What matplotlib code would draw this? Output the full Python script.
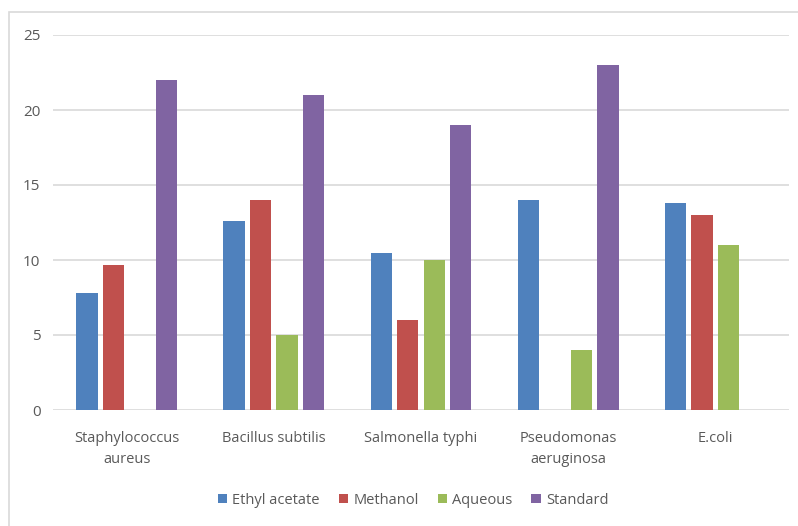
import numpy as np
import matplotlib.pyplot as plt
from matplotlib.patches import Rectangle

# Zone of inhibition per organism and extract
organisms = ["Staphylococcus\naureus", "Bacillus subtilis", "Salmonella typhi",
             "Pseudomonas\naeruginosa", "E.coli"]
series_names = ["Ethyl acetate", "Methanol", "Aqueous", "Standard"]
ethyl_acetate = [7.8, 12.6, 10.5, 14.0, 13.8]
methanol = [9.7, 14.0, 6.0, 0.0, 13.0]
aqueous = [0.0, 5.0, 10.0, 4.0, 11.0]
standard = [22.0, 21.0, 19.0, 23.0, 0.0]
y_ticks = [0, 5, 10, 15, 20, 25]

colors = ["#4F81BD", "#C0504D", "#9BBB59", "#8064A2"]
text_color = "#595959"
plt.rcParams['font.family'] = ['Open Sans', 'DejaVu Sans']

W, H = 798, 526
fig = plt.figure(figsize=(W / 100, H / 100), dpi=100)

# chart border (top and left edges visible)
fig.patches.append(Rectangle((9 / W, -0.1), 1.2, (H - 12) / H + 0.1,
                             transform=fig.transFigure, fill=False,
                             edgecolor="#D9D9D9", linewidth=1.2))

left, right, top, bottom = 53, 789, 35, 410
ax = fig.add_axes([left / W, 1 - bottom / H, (right - left) / W, (bottom - top) / H])

x = np.arange(len(organisms))
step = 0.18
width = 0.145
for i, (name, vals) in enumerate(zip(series_names, [ethyl_acetate, methanol, aqueous, standard])):
    ax.bar(x + (i - 1.5) * step, vals, width=width, color=colors[i], label=name, zorder=3)

ax.set_xlim(-0.5, len(organisms) - 0.5)
ax.set_ylim(0, 25)
ax.set_yticks(y_ticks)
ax.set_yticklabels([str(t) for t in y_ticks], fontsize=11, color=text_color)
ax.set_xticks(x)
ax.set_xticklabels(organisms, fontsize=10.5, color=text_color, linespacing=1.6)
ax.tick_params(axis='both', length=0)
ax.tick_params(axis='y', pad=9)
ax.tick_params(axis='x', pad=15)
ax.grid(axis='y', color="#D9D9D9", linewidth=1.2, zorder=0)
for s in ax.spines.values():
    s.set_visible(False)

fig.legend(loc='center', bbox_to_anchor=(413 / W, 1 - 500 / H), ncol=4, frameon=False,
           fontsize=10.5, labelcolor=text_color, handlelength=0.65, handleheight=0.65,
           handletextpad=0.35, columnspacing=1.3)

fig.savefig("out.png", dpi=100)
